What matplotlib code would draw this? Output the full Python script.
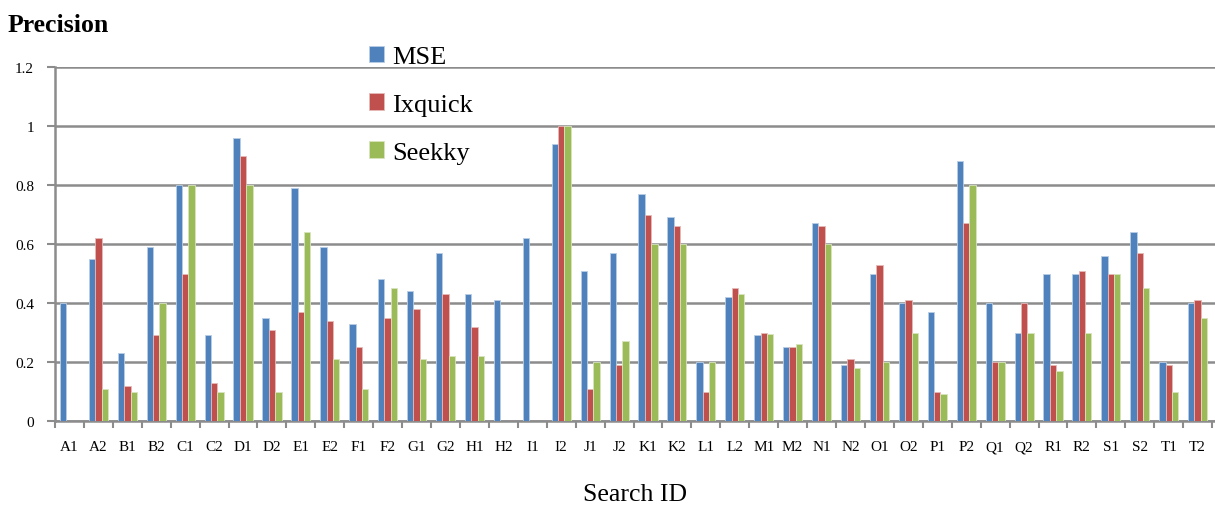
import numpy as np
import matplotlib
matplotlib.use("Agg")
import matplotlib.pyplot as plt

plt.rcParams['font.family'] = ['Liberation Serif', 'DejaVu Serif']

# search ids and precision per engine
search_ids = ["A1", "A2", "B1", "B2", "C1", "C2", "D1", "D2", "E1", "E2",
              "F1", "F2", "G1", "G2", "H1", "H2", "I1", "I2", "J1", "J2",
              "K1", "K2", "L1", "L2", "M1", "M2", "N1", "N2", "O1", "O2",
              "P1", "P2", "Q1", "Q2", "R1", "R2", "S1", "S2", "T1", "T2"]
mse = [0.40, 0.55, 0.23, 0.59, 0.80, 0.29, 0.96, 0.35, 0.79, 0.59,
       0.33, 0.48, 0.44, 0.57, 0.43, 0.41, 0.62, 0.94, 0.51, 0.57,
       0.77, 0.69, 0.20, 0.42, 0.29, 0.25, 0.67, 0.19, 0.50, 0.40,
       0.37, 0.88, 0.40, 0.30, 0.50, 0.50, 0.56, 0.64, 0.20, 0.40]
ixquick = [0.00, 0.62, 0.12, 0.29, 0.50, 0.13, 0.90, 0.31, 0.37, 0.34,
           0.25, 0.35, 0.38, 0.43, 0.32, 0.00, 0.00, 1.00, 0.11, 0.19,
           0.70, 0.66, 0.10, 0.45, 0.30, 0.25, 0.66, 0.21, 0.53, 0.41,
           0.10, 0.67, 0.20, 0.40, 0.19, 0.51, 0.50, 0.57, 0.19, 0.41]
seekky = [0.00, 0.11, 0.10, 0.40, 0.80, 0.10, 0.80, 0.10, 0.64, 0.21,
          0.11, 0.45, 0.21, 0.22, 0.22, 0.00, 0.00, 1.00, 0.20, 0.27,
          0.60, 0.60, 0.20, 0.43, 0.295, 0.26, 0.60, 0.18, 0.20, 0.30,
          0.09, 0.80, 0.20, 0.30, 0.17, 0.30, 0.50, 0.45, 0.10, 0.35]

series = [("MSE", mse, "#4F81BD", "#B9CDE5"),
          ("Ixquick", ixquick, "#C0504D", "#E6B9B8"),
          ("Seekky", seekky, "#9BBB59", "#D7E4BD")]

fig = plt.figure(figsize=(12.15, 5.06), dpi=100)
ax = fig.add_axes([55 / 1215, 1 - 422 / 506, 1 - 55 / 1215, 354 / 506])

x = np.arange(len(search_ids))
w = 0.22
for i, (name, vals, col, edge) in enumerate(series):
    ax.bar(x + (i - 1) * w, vals, w, color=col, edgecolor=edge,
           linewidth=0.6, label=name, zorder=3)

ax.set_xlim(-0.5, len(search_ids) - 0.5 + 0.1)
ax.set_ylim(0, 1.2)
ax.set_yticks(np.arange(0, 1.21, 0.2))
ax.set_yticklabels(["0", "0.2", "0.4", "0.6", "0.8", "1", "1.2"], fontsize=11)
ax.yaxis.grid(True, color="#8C8C8C", linewidth=1.8, zorder=0)
ax.set_axisbelow(True)

# category boundary ticks (Excel style) and centered labels
ax.set_xticks(np.arange(-0.5, len(search_ids), 1.0))
ax.set_xticklabels([])
ax.set_xticks(x, minor=True)
ax.set_xticklabels(search_ids, minor=True, fontsize=11)
ax.tick_params(axis="x", which="major", length=5, width=1.5, color="#8C8C8C")
ax.tick_params(axis="x", which="minor", length=0, pad=14)
ax.tick_params(axis="y", length=6, width=1.5, color="#8C8C8C", pad=9)

for s in ["top", "right"]:
    ax.spines[s].set_visible(False)
for s in ["left", "bottom"]:
    ax.spines[s].set_color("#8C8C8C")
    ax.spines[s].set_linewidth(1.8)

fig.text(8 / 1215, 1 - 25 / 506, "Precision", fontsize=18.5, fontweight="bold",
         va="center", ha="left")
fig.text(635 / 1215, 1 - 495 / 506, "Search ID", fontsize=18.5,
         va="center", ha="center")

leg = fig.legend(loc="upper left", bbox_to_anchor=(358 / 1215, 1 - 36 / 506),
                 frameon=False, fontsize=19, handlelength=0.6, handleheight=0.6,
                 handletextpad=0.3, labelspacing=0.95, borderaxespad=0)

fig.savefig("out.png", dpi=100)
